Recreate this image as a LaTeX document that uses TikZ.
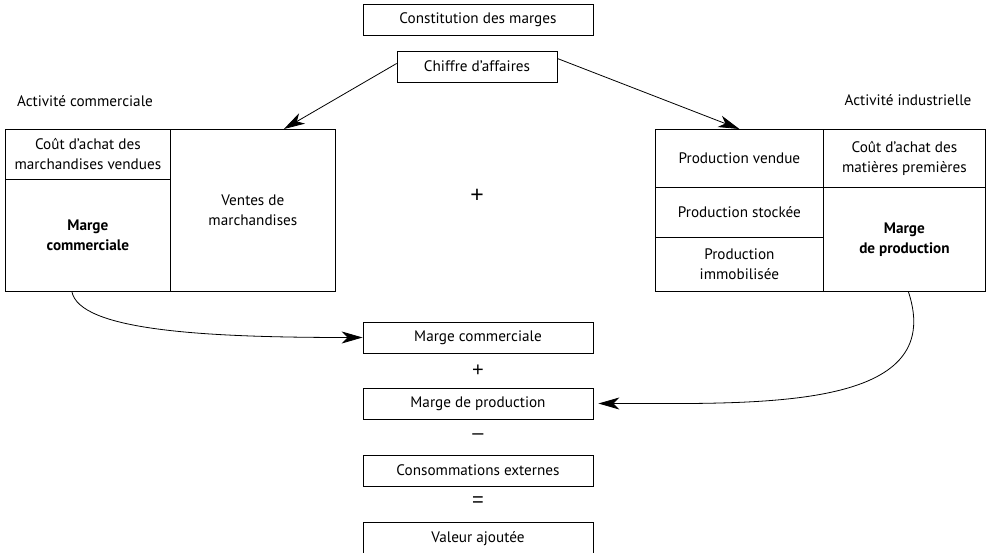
\documentclass[tikz,border=0pt]{standalone}
\usepackage{fontspec}
\setmainfont{PT Sans}
\newfontfamily\signefont{Liberation Sans}
\usetikzlibrary{arrows.meta}

\tikzset{
  cell/.style={draw, line width=0.8pt, align=center, inner sep=0pt, anchor=north west},
  bloc/.style={draw, line width=0.8pt, minimum width=230pt, minimum height=31pt, inner sep=0pt},
  fleche/.style={line width=0.8pt, -{Stealth[length=21pt, width=12pt, inset=6pt]}},
  signe/.style={font=\signefont\fontsize{20}{20}\selectfont},
}

\begin{document}
\begin{tikzpicture}[x=1pt, y=-1pt, font=\fontsize{15.2}{20}\selectfont]
  \useasboundingbox (0,0) rectangle (990,553);

  \node[bloc] (titre) at (478,20) {Constitution des marges};
  \node[bloc, minimum width=160pt] (ca) at (477,66.5) {Chiffre d'affaires};

  \begin{scope}
    \node at (85,101) {Activité commerciale};
    \node[cell, minimum width=165pt, minimum height=50pt] (coutmarch) at (5,129) {Coût d'achat des\\marchandises vendues};
    \node[cell, minimum width=165pt, minimum height=112pt, font=\fontsize{15.2}{20}\selectfont\bfseries] (margecom) at (5,179) {Marge\\commerciale};
    \node[cell, minimum width=165pt, minimum height=162pt] (ventes) at (170,129) {Ventes de\\marchandises};
  \end{scope}

  \node[signe, font=\signefont\fontsize{23}{23}\selectfont] (plus) at (477,196) {+};

  \begin{scope}
    \node at (908,100) {Activité industrielle};
    \node[cell, minimum width=168pt, minimum height=58pt] (prodvendue) at (655,129) {Production vendue};
    \node[cell, minimum width=168pt, minimum height=50pt] (prodstock) at (655,187) {Production stockée};
    \node[cell, minimum width=168pt, minimum height=54pt] (prodimmo) at (655,237) {Production\\immobilisée};
    \node[cell, minimum width=162pt, minimum height=58pt] (coutmat) at (823,129) {Coût d'achat des\\matières premières};
    \node[cell, minimum width=162pt, minimum height=104pt, font=\fontsize{15.2}{20}\selectfont\bfseries] (margeprod) at (823,187) {Marge\\de production};
  \end{scope}

  \node[bloc] (mc) at (478,337.5) {Marge commerciale};
  \node[signe] (op1) at (478,371) {+};
  \node[bloc] (mp) at (478,403.5) {Marge de production};
  \node[signe] (op2) at (478,437) {–};
  \node[bloc] (ce) at (478,470.5) {Consommations externes};
  \node[signe] (op3) at (478,502) {=};
  \node[bloc, minimum height=34pt] (va) at (478,539) {Valeur ajoutée};

  \draw[fleche] ([yshift=3pt]ca.west) -- ([xshift=31pt]ventes.north);
  \draw[fleche] ([yshift=8pt]ca.east) -- (prodvendue.north);
  \draw[fleche] ([xshift=-16pt]margecom.south) .. controls (80,330) and (200,337.5) .. (mc.west);
  \draw[fleche, shorten >=5pt] ([xshift=4pt]margeprod.south) .. controls (948,411) and (760,403.5) .. (mp.east);
\end{tikzpicture}
\end{document}
